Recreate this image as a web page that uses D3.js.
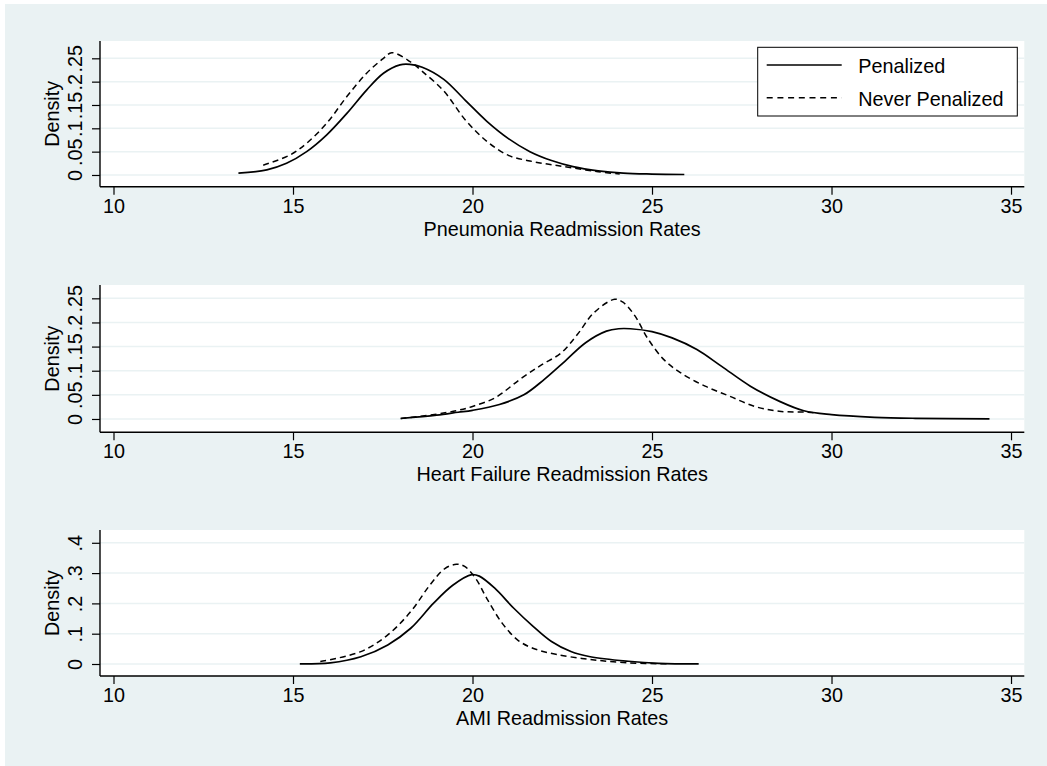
<!DOCTYPE html>
<html>
<head>
<meta charset="utf-8">
<script src="https://cdn.jsdelivr.net/npm/d3@7"></script>
<style>
  body { margin: 0; background: #fff; }
  text { font-family: "Liberation Sans", Arial, sans-serif; fill: #000; }
</style>
</head>
<body>
<div id="chart"></div>
<script>
let pneuPenX = [13.48, 14.27, 14.82, 15.38, 15.94, 16.5, 17.05, 17.52, 17.98, 18.26, 18.6, 19.2, 19.8, 20.4, 21.0, 21.6, 22.2, 22.8, 23.5, 24.2, 25.0, 25.9];
let pneuPenD = [0.004, 0.011, 0.025, 0.05, 0.086, 0.132, 0.182, 0.218, 0.236, 0.237, 0.231, 0.205, 0.16, 0.115, 0.078, 0.05, 0.031, 0.018, 0.009, 0.004, 0.002, 0.001];
let pneuNevX = [14.17, 14.92, 15.38, 15.94, 16.5, 17.05, 17.52, 17.75, 18.26, 18.6, 19.2, 19.8, 20.4, 21.0, 21.6, 22.2, 22.8, 23.5, 24.1];
let pneuNevD = [0.021, 0.043, 0.068, 0.111, 0.168, 0.218, 0.25, 0.262, 0.243, 0.222, 0.18, 0.118, 0.072, 0.042, 0.03, 0.022, 0.015, 0.007, 0.002];

let hfPenX = [18.0, 19.0, 19.6, 20.0, 20.75, 21.43, 22.0, 22.58, 23.15, 23.73, 24.07, 24.4, 25.0, 25.56, 26.25, 26.94, 27.74, 28.54, 29.23, 30.0, 31.2, 32.33, 34.4];
let hfPenD = [0.001, 0.008, 0.014, 0.018, 0.03, 0.05, 0.082, 0.12, 0.158, 0.182, 0.187, 0.187, 0.181, 0.168, 0.144, 0.109, 0.068, 0.037, 0.017, 0.009, 0.0035, 0.0014, 0.0002];
let hfNevX = [18.0, 19.0, 19.6, 20.0, 20.63, 21.32, 21.9, 22.47, 22.92, 23.38, 23.96, 24.19, 24.53, 24.87, 25.33, 25.79, 26.48, 27.17, 27.86, 28.54, 29.35, 29.6];
let hfNevD = [0.001, 0.01, 0.018, 0.026, 0.044, 0.082, 0.111, 0.137, 0.175, 0.22, 0.248, 0.242, 0.213, 0.168, 0.123, 0.096, 0.068, 0.047, 0.026, 0.016, 0.014, 0.012];

let amiPenX = [15.19, 16.04, 16.89, 17.64, 18.28, 18.91, 19.45, 19.98, 20.19, 20.62, 21.15, 21.68, 22.2, 22.74, 23.28, 24.34, 25.19, 26.3];
let amiPenD = [0.0005, 0.004, 0.024, 0.063, 0.118, 0.2, 0.26, 0.295, 0.29, 0.25, 0.184, 0.125, 0.074, 0.041, 0.024, 0.009, 0.002, 0.0003];
let amiNevX = [15.76, 16.89, 17.64, 18.28, 18.81, 19.23, 19.55, 19.77, 20.09, 20.4, 20.83, 21.26, 21.68, 22.32, 23.28, 24.34, 25.5];
let amiNevD = [0.008, 0.041, 0.096, 0.173, 0.26, 0.315, 0.329, 0.323, 0.282, 0.216, 0.134, 0.079, 0.052, 0.032, 0.015, 0.004, 0.0005];

let xTicks = [10, 15, 20, 25, 30, 35];
let yTicksSmall = [0, 0.05, 0.1, 0.15, 0.2, 0.25];
let yTicksAmi = [0, 0.1, 0.2, 0.3, 0.4];
let xTitles = ["Pneumonia Readmission Rates", "Heart Failure Readmission Rates", "AMI Readmission Rates"];
let legendLabels = ["Penalized", "Never Penalized"];

let W = 1047, H = 766;
let fontSize = 19.8;

let panels = [
    { top: 41, bottom: 186.7, ydom: [-0.0251, 0.2871], ticks: yTicksSmall, pen: [pneuPenX, pneuPenD], nev: [pneuNevX, pneuNevD], title: xTitles[0] },
    { top: 285, bottom: 432.3, ydom: [-0.0276, 0.2776], ticks: yTicksSmall, pen: [hfPenX, hfPenD], nev: [hfNevX, hfNevD], title: xTitles[1] },
    { top: 530, bottom: 676, ydom: [-0.0396, 0.4422], ticks: yTicksAmi, pen: [amiPenX, amiPenD], nev: [amiNevX, amiNevD], title: xTitles[2] }
];

let plotLeft = 100, plotRight = 1024.3;

let svg = d3.select("#chart").append("svg")
        .attr("width", W)
        .attr("height", H);

svg.append("rect")
        .attr("x", 5).attr("y", 4)
        .attr("width", W - 5).attr("height", H - 4)
        .attr("fill", "#eaf2f3");

let x = d3.scaleLinear()
        .domain([9.624, 35.37])
        .range([plotLeft, plotRight]);

// Stata style tick labels: ".05" instead of "0.05"
let stataFmt = function(v) { return v === 0 ? "0" : d3.format("~g")(v).replace(/^0\./, "."); };

let line = function(y) {
    return d3.line()
        .x(function(d) { return x(d[0]); })
        .y(function(d) { return y(d[1]); })
        .curve(d3.curveCatmullRom.alpha(0.5));
};

panels.forEach(function(p) {
    let y = d3.scaleLinear()
            .domain(p.ydom)
            .range([p.bottom, p.top]);

    let g = svg.append("g");

    g.append("rect")
            .attr("x", plotLeft).attr("y", p.top)
            .attr("width", plotRight - plotLeft).attr("height", p.bottom - p.top)
            .attr("fill", "#fff");

    // gridlines
    g.append("g")
            .selectAll("line").data(p.ticks)
            .enter().append("line")
            .attr("x1", plotLeft).attr("x2", plotRight)
            .attr("y1", function(d) { return y(d); })
            .attr("y2", function(d) { return y(d); })
            .attr("stroke", "#eaf2f3")
            .attr("stroke-width", 1.5);

    // x axis
    let xAxis = d3.axisBottom(x)
            .tickValues(xTicks)
            .tickSize(8)
            .tickPadding(4)
            .tickSizeOuter(0)
            .tickFormat(d3.format("d"));

    let gx = g.append("g")
            .attr("transform", "translate(0," + p.bottom + ")")
            .call(xAxis);
    gx.select(".domain").attr("stroke", "#000").attr("stroke-width", 1.4)
            .attr("d", "M" + plotLeft + ",0H" + plotRight);
    gx.selectAll(".tick line").attr("stroke", "#000").attr("stroke-width", 1.2);
    gx.selectAll("text").attr("font-size", fontSize).attr("fill", "#000").style("font-family", "Liberation Sans, Arial, sans-serif");

    // y axis with rotated labels
    let yAxis = d3.axisLeft(y)
            .tickValues(p.ticks)
            .tickSize(8)
            .tickSizeOuter(0)
            .tickFormat(stataFmt);

    let gy = g.append("g")
            .attr("transform", "translate(" + plotLeft + ",0)")
            .call(yAxis);
    gy.select(".domain").attr("stroke", "#000").attr("stroke-width", 1.4)
            .attr("d", "M0," + p.top + "V" + p.bottom);
    gy.selectAll(".tick line").attr("stroke", "#000").attr("stroke-width", 1.2);
    gy.selectAll("text")
            .attr("transform", "rotate(-90)")
            .attr("x", 0).attr("y", -18).attr("dy", 0)
            .attr("text-anchor", "middle")
            .attr("font-size", fontSize).attr("fill", "#000")
            .style("font-family", "Liberation Sans, Arial, sans-serif");

    g.append("text")
            .attr("transform", "translate(59," + ((p.top + p.bottom) / 2) + ") rotate(-90)")
            .attr("text-anchor", "middle")
            .attr("font-size", fontSize)
            .text("Density");

    g.append("text")
            .attr("x", (plotLeft + plotRight) / 2)
            .attr("y", p.bottom + 49)
            .attr("text-anchor", "middle")
            .attr("font-size", fontSize)
            .text(p.title);

    // density curves
    let penPts = d3.zip(p.pen[0], p.pen[1]);
    let nevPts = d3.zip(p.nev[0], p.nev[1]);

    g.append("path")
            .datum(nevPts)
            .attr("d", line(y))
            .attr("fill", "none")
            .attr("stroke", "#000")
            .attr("stroke-width", 1.5)
            .attr("stroke-dasharray", "6,4");

    g.append("path")
            .datum(penPts)
            .attr("d", line(y))
            .attr("fill", "none")
            .attr("stroke", "#000")
            .attr("stroke-width", 1.7);
});

// legend in first panel
let legend = svg.append("g");
legend.append("rect")
        .attr("x", 757.7).attr("y", 47.3)
        .attr("width", 259.6).attr("height", 68.7)
        .attr("fill", "#fff")
        .attr("stroke", "#000")
        .attr("stroke-width", 1);

legendLabels.forEach(function(lbl, i) {
    let yy = 65 + i * 32.7;
    legend.append("line")
            .attr("x1", 766.7).attr("x2", 841.7)
            .attr("y1", yy).attr("y2", yy)
            .attr("stroke", "#000")
            .attr("stroke-width", i === 0 ? 1.7 : 1.5)
            .attr("stroke-dasharray", i === 0 ? null : "6,4.7");
    legend.append("text")
            .attr("x", 858.3)
            .attr("y", yy + 8)
            .attr("font-size", fontSize)
            .text(lbl);
});
</script>
</body>
</html>
